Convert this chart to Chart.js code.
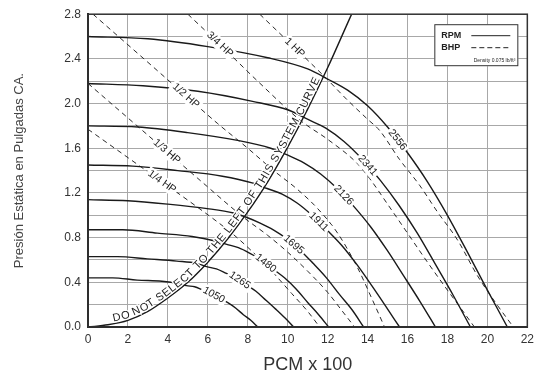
<!DOCTYPE html>
<html>
<head>
<meta charset="utf-8">
<script src="https://cdn.jsdelivr.net/npm/chart.js@4.4.1/dist/chart.umd.min.js"></script>
<style>
  html, body { margin: 0; padding: 0; background: #fff; }
</style>
</head>
<body>
<canvas id="fanChart" width="539" height="381"></canvas>
<script>
// curvas de RPM (PCM x 100 vs presion estatica)
const rpmLabels = ['1050', '1265', '1480', '1695', '1911', '2126', '2341', '2556'];
const cfm1050 = [0, 1.23, 2.46, 3.70, 4.52, 4.93, 5.34, 5.75, 6.16, 6.57, 6.98, 7.39, 7.78, 8.15, 8.5];
const sp1050  = [0.44, 0.44, 0.42, 0.41, 0.39, 0.37, 0.36, 0.33, 0.30, 0.26, 0.22, 0.17, 0.11, 0.06, 0];
const cfm1265 = [0, 1.48, 2.97, 4.45, 5.44, 5.94, 6.43, 6.93, 7.42, 7.92, 8.41, 8.91, 9.40, 9.87, 10.3];
const sp1265  = [0.63, 0.63, 0.61, 0.59, 0.57, 0.54, 0.52, 0.48, 0.44, 0.38, 0.32, 0.24, 0.16, 0.08, 0];
const cfm1480 = [0, 1.74, 3.47, 5.21, 6.37, 6.95, 7.53, 8.11, 8.69, 9.26, 9.84, 10.42, 11.00, 11.55, 12.05];
const sp1480  = [0.87, 0.87, 0.84, 0.81, 0.77, 0.74, 0.71, 0.66, 0.60, 0.52, 0.44, 0.34, 0.22, 0.11, 0];
const cfm1695 = [0, 1.99, 3.98, 5.97, 7.29, 7.96, 8.62, 9.28, 9.95, 10.61, 11.27, 11.94, 12.60, 13.24, 13.8];
const sp1695  = [1.14, 1.13, 1.10, 1.06, 1.02, 0.98, 0.93, 0.87, 0.79, 0.69, 0.57, 0.44, 0.29, 0.15, 0];
const cfm1911 = [0, 2.24, 4.49, 6.73, 8.22, 8.97, 9.72, 10.47, 11.22, 11.96, 12.71, 13.46, 14.21, 14.93, 15.6];
const sp1911  = [1.45, 1.44, 1.40, 1.35, 1.29, 1.24, 1.19, 1.11, 1.00, 0.87, 0.73, 0.56, 0.37, 0.18, 0];
const cfm2126 = [0, 2.50, 4.99, 7.49, 9.15, 9.98, 10.81, 11.65, 12.48, 13.31, 14.14, 14.97, 15.80, 16.62, 17.4];
const sp2126  = [1.80, 1.79, 1.74, 1.67, 1.60, 1.54, 1.47, 1.37, 1.24, 1.08, 0.90, 0.69, 0.46, 0.23, 0];
const cfm2341 = [0, 2.75, 5.50, 8.24, 10.07, 10.99, 11.91, 12.82, 13.74, 14.65, 15.57, 16.49, 17.40, 18.3, 19.15];
const sp2341  = [2.18, 2.16, 2.11, 2.02, 1.94, 1.86, 1.78, 1.66, 1.50, 1.31, 1.09, 0.84, 0.56, 0.28, 0];
const cfm2556 = [0, 3, 6, 9, 11, 12, 13, 14, 15, 16, 17, 18, 19, 20, 21];
const sp2556  = [2.6, 2.58, 2.51, 2.41, 2.31, 2.22, 2.12, 1.98, 1.79, 1.56, 1.3, 1.0, 0.67, 0.33, 0];

// lineas de BHP (discontinuas)
const hpLabels = ['1/4 HP', '1/3 HP', '1/2 HP', '3/4 HP', '1 HP'];
const cfmHp14 = [0, 3.7, 5.5, 7.2, 8.2, 9.2, 10.2, 11.0, 11.6];
const spHp14  = [1.77, 1.3, 1.07, 0.84, 0.68, 0.5, 0.3, 0.14, 0];
const cfmHp13 = [0, 3.95, 5.5, 7.8, 9.0, 10.0, 11.0, 12.0, 12.7, 13.35];
const spHp13  = [2.18, 1.57, 1.33, 0.98, 0.82, 0.67, 0.5, 0.31, 0.15, 0];
const cfmHp12 = [0.25, 3.95, 4.9, 6.5, 8.0, 9.3, 10.5, 11.5, 12.5, 13.5, 14.2, 14.85];
const spHp12  = [2.8, 2.22, 2.07, 1.82, 1.6, 1.4, 1.23, 1.06, 0.84, 0.53, 0.26, 0];
const cfmHp34 = [5.0, 6.6, 8.5, 10.7, 12.0, 13.45, 14.1, 15.0, 16.0, 17.0, 18.0, 18.7, 19.35];
const spHp34  = [2.8, 2.53, 2.2, 1.84, 1.68, 1.47, 1.33, 1.1, 0.84, 0.58, 0.33, 0.16, 0];
const cfmHp1  = [8.6, 10.35, 11.85, 13.0, 14.0, 14.6, 15.6, 16.6, 17.5, 18.5, 19.5, 20.4, 21.3];
const spHp1   = [2.8, 2.5, 2.24, 2.03, 1.86, 1.76, 1.5, 1.27, 1.03, 0.78, 0.46, 0.22, 0];

// curva del sistema
const cfmSystem = [0, 1, 2, 3, 4, 5, 6, 7, 8, 9, 10, 11, 12, 13, 13.2];
const spSystem  = [0, 0.02, 0.06, 0.14, 0.26, 0.40, 0.58, 0.79, 1.03, 1.30, 1.61, 1.95, 2.32, 2.72, 2.8];

const xTickValues = [0, 2, 4, 6, 8, 10, 12, 14, 16, 18, 20, 22];
const yTickLabels = ['0.0', '0.4', '0.8', '1.2', '1.6', '2.0', '2.4', '2.8'];

const rpmCfm = [cfm1050, cfm1265, cfm1480, cfm1695, cfm1911, cfm2126, cfm2341, cfm2556];
const rpmSp = [sp1050, sp1265, sp1480, sp1695, sp1911, sp2126, sp2341, sp2556];
const hpCfm = [cfmHp14, cfmHp13, cfmHp12, cfmHp34, cfmHp1];
const hpSp = [spHp14, spHp13, spHp12, spHp34, spHp1];

// donde van las etiquetas (valor de PCM)
const rpmLabelAt = [6.3, 7.6, 8.9, 10.3, 11.55, 12.8, 14.0, 15.5];
const hpLabelAt = [3.7, 3.95, 4.9, 6.6, 10.35];

const FONT = '"Liberation Sans", Arial, sans-serif';
const toPoints = (xs, ys) => xs.map((x, i) => ({ x: x, y: ys[i] }));

const datasets = [];
rpmLabels.forEach((lbl, i) => {
    datasets.push({
        label: lbl + ' RPM',
        data: toPoints(rpmCfm[i], rpmSp[i]),
        borderColor: '#1a1a1a',
        borderWidth: 1.4,
        showLine: true,
        pointRadius: 0,
        cubicInterpolationMode: 'monotone',
    });
});
hpLabels.forEach((lbl, i) => {
    datasets.push({
        label: lbl,
        data: toPoints(hpCfm[i], hpSp[i]),
        borderColor: '#2a2a2a',
        borderWidth: 1,
        borderDash: [5, 4],
        showLine: true,
        pointRadius: 0,
        cubicInterpolationMode: 'monotone',
    });
});
const SYS = datasets.length;
datasets.push({
    label: 'system',
    data: toPoints(cfmSystem, spSystem),
    borderColor: '#1a1a1a',
    borderWidth: 1.4,
    showLine: true,
    pointRadius: 0,
    cubicInterpolationMode: 'monotone',
});

function pointAt(chart, dsIndex, q) {
    const pts = chart.getDatasetMeta(dsIndex).data;
    const px = chart.scales.x.getPixelForValue(q);
    for (let i = 0; i < pts.length - 1; i++) {
        const a = pts[i], b = pts[i + 1];
        if (px >= a.x && px <= b.x) {
            const t = (px - a.x) / ((b.x - a.x) || 1);
            return { x: a.x + t * (b.x - a.x), y: a.y + t * (b.y - a.y), angle: Math.atan2(b.y - a.y, b.x - a.x) };
        }
    }
    return null;
}

function boxedText(ctx, text, p, size) {
    ctx.save();
    ctx.translate(p.x, p.y);
    ctx.rotate(p.angle);
    ctx.font = size + 'px ' + FONT;
    const w = ctx.measureText(text).width;
    ctx.fillStyle = '#fff';
    ctx.fillRect(-w / 2 - 2, -size / 2 - 1, w + 4, size + 2);
    ctx.fillStyle = '#222';
    ctx.textAlign = 'center';
    ctx.textBaseline = 'middle';
    ctx.fillText(text, 0, 0);
    ctx.restore();
}

const overlay = {
    id: 'overlay',
    afterDatasetsDraw(chart) {
        const ctx = chart.ctx;
        const a = chart.chartArea;

        // marco superior y derecho
        ctx.save();
        ctx.strokeStyle = '#333';
        ctx.lineWidth = 1.5;
        ctx.strokeRect(a.left, a.top, a.right - a.left, a.bottom - a.top);
        ctx.restore();

        rpmLabels.forEach((lbl, i) => {
            const p = pointAt(chart, i, rpmLabelAt[i]);
            if (p) boxedText(ctx, lbl, p, 10.5);
        });
        hpLabels.forEach((lbl, i) => {
            const p = pointAt(chart, rpmLabels.length + i, hpLabelAt[i]);
            if (p) boxedText(ctx, lbl, p, 10.5);
        });

        // texto sobre la curva del sistema
        const pts = chart.getDatasetMeta(SYS).data.map(p => ({ x: p.x, y: p.y }));
        const cum = [0];
        for (let i = 1; i < pts.length; i++) {
            cum.push(cum[i - 1] + Math.hypot(pts[i].x - pts[i - 1].x, pts[i].y - pts[i - 1].y));
        }
        const atS = s => {
            for (let i = 1; i < pts.length; i++) {
                if (s <= cum[i]) {
                    const t = (s - cum[i - 1]) / (cum[i] - cum[i - 1]);
                    const p0 = pts[i - 1], p1 = pts[i];
                    return { x: p0.x + t * (p1.x - p0.x), y: p0.y + t * (p1.y - p0.y), angle: Math.atan2(p1.y - p0.y, p1.x - p0.x) };
                }
            }
            return null;
        };
        const sOf = q => {
            const px = chart.scales.x.getPixelForValue(q);
            for (let i = 1; i < pts.length; i++) {
                if (px <= pts[i].x) {
                    const t = (px - pts[i - 1].x) / (pts[i].x - pts[i - 1].x);
                    return cum[i - 1] + t * (cum[i] - cum[i - 1]);
                }
            }
            return cum[cum.length - 1];
        };
        const text = 'DO NOT SELECT TO THE LEFT OF THIS SYSTEM CURVE';
        ctx.save();
        ctx.font = '11px ' + FONT;
        const widths = [...text].map(c => ctx.measureText(c).width);
        const total = widths.reduce((s, w) => s + w, 0);
        const s0 = sOf(1.3), s1 = sOf(11.7);
        const gap = (s1 - s0 - total) / (text.length - 1);
        let s = s0;
        ctx.textAlign = 'center';
        ctx.textBaseline = 'alphabetic';
        [...text].forEach((c, i) => {
            const p = atS(s + widths[i] / 2);
            s += widths[i] + gap;
            if (!p || c === ' ') return;
            ctx.save();
            ctx.translate(p.x, p.y);
            ctx.rotate(p.angle);
            ctx.strokeStyle = '#fff';
            ctx.lineWidth = 2.5;
            ctx.strokeText(c, 0, -2);
            ctx.fillStyle = '#222';
            ctx.fillText(c, 0, -2);
            ctx.restore();
        });
        ctx.restore();

        // leyenda
        const lx = a.right - 93, ly = a.top + 10;
        ctx.save();
        ctx.fillStyle = '#fff';
        ctx.fillRect(lx, ly, 84, 42);
        ctx.strokeStyle = '#333';
        ctx.lineWidth = 1;
        ctx.strokeRect(lx + 0.5, ly + 0.5, 83, 41);
        ctx.fillStyle = '#222';
        ctx.font = 'bold 9px ' + FONT;
        ctx.textBaseline = 'middle';
        ctx.fillText('RPM', lx + 7, ly + 11);
        ctx.fillText('BHP', lx + 7, ly + 23);
        ctx.strokeStyle = '#222';
        ctx.beginPath();
        ctx.moveTo(lx + 37, ly + 11.5);
        ctx.lineTo(lx + 76, ly + 11.5);
        ctx.stroke();
        ctx.setLineDash([5, 3]);
        ctx.beginPath();
        ctx.moveTo(lx + 37, ly + 23.5);
        ctx.lineTo(lx + 76, ly + 23.5);
        ctx.stroke();
        ctx.setLineDash([]);
        ctx.font = '5px ' + FONT;
        ctx.textAlign = 'right';
        ctx.fillText('Density 0.075 lb/ft\u00B3', lx + 81, ly + 36);
        ctx.restore();
    }
};

new Chart(document.getElementById('fanChart').getContext('2d'), {
    type: 'scatter',
    data: { datasets: datasets },
    options: {
        responsive: false,
        animation: false,
        layout: { padding: { left: 0, right: 11, top: 12, bottom: 0 } },
        plugins: {
            legend: { display: false },
            tooltip: { enabled: false },
        },
        scales: {
            x: {
                type: 'linear',
                min: 0,
                max: 22,
                afterFit: s => { s.height = 54; },
                afterBuildTicks: s => { s.ticks = xTickValues.map(v => ({ value: v })); },
                ticks: { color: '#333', padding: 5, font: { family: FONT, size: 12 } },
                grid: { color: '#a8a8a8', lineWidth: 1, drawTicks: false },
                border: { color: '#222', width: 2 },
                title: {
                    display: true,
                    text: 'PCM x 100',
                    color: '#333',
                    font: { family: FONT, size: 18 },
                    padding: { top: 0, bottom: 5 },
                },
            },
            y: {
                min: 0,
                max: 2.8,
                afterFit: s => { s.width = 88; },
                ticks: {
                    stepSize: 0.2,
                    autoSkip: false,
                    color: '#333',
                    padding: 7,
                    font: { family: FONT, size: 12 },
                    callback: v => {
                        const i = Math.round(v / 0.2);
                        return i % 2 === 0 ? yTickLabels[i / 2] : '';
                    },
                },
                grid: { color: '#a8a8a8', lineWidth: 1, drawTicks: false },
                border: { color: '#222', width: 2 },
                title: {
                    display: true,
                    text: 'Presión Estática en Pulgadas CA.',
                    color: '#444',
                    font: { family: FONT, size: 13 },
                    padding: { top: 12, bottom: 0 },
                },
            },
        },
    },
    plugins: [overlay],
});
</script>
</body>
</html>
